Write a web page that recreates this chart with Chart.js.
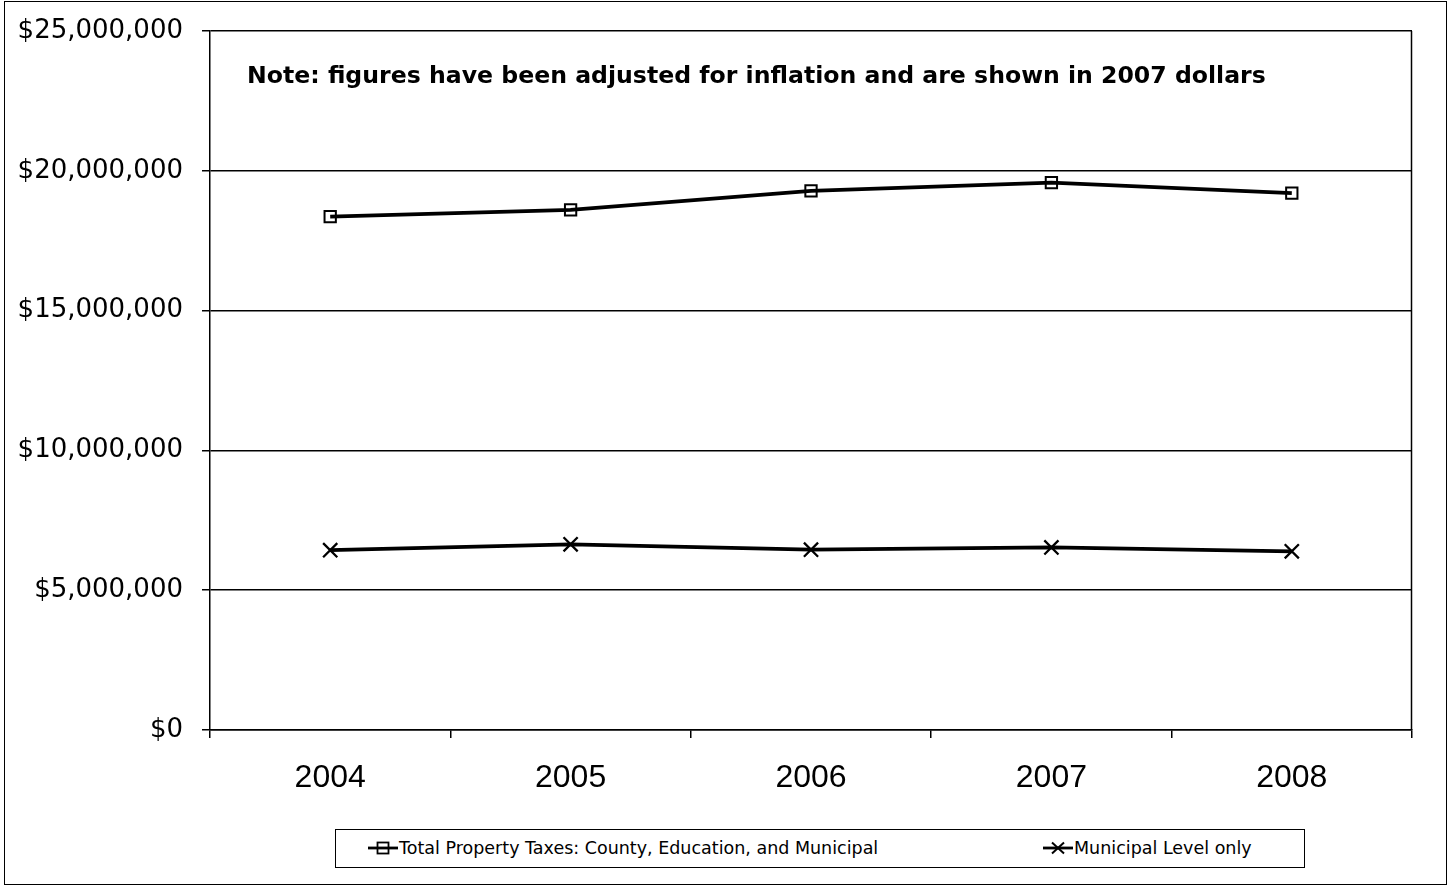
<!DOCTYPE html>
<html>
<head>
<meta charset="utf-8">
<script src="https://cdn.jsdelivr.net/npm/chart.js@4/dist/chart.umd.min.js"></script>
<style>
  html, body { margin: 0; padding: 0; background: #fff; }
  #wrap { position: relative; width: 1451px; height: 887px; overflow: hidden; }
  #frame { position: absolute; left: 4px; top: 1px; width: 1443px; height: 884px; box-sizing: border-box; border: 1.5px solid #000; pointer-events: none; }
  canvas { position: absolute; left: 0; top: 0; }
  #legend { position: absolute; left: 335px; top: 829px; width: 970px; height: 39px; box-sizing: border-box; border: 1.5px solid #000; background: #fff;
            font-family: "DejaVu Sans", Verdana, sans-serif; font-size: 17.5px; color: #000; }
  .item { position: absolute; top: 0; height: 36px; display: flex; align-items: center; white-space: nowrap; }
  .item svg { display: block; margin-right: 1px; }
</style>
</head>
<body>
<div id="wrap">
  <canvas id="c" width="1451" height="887"></canvas>
  <div id="frame"></div>
  <div id="legend"></div>
</div>
<script>
// ---- data ----
const categories = ['2004', '2005', '2006', '2007', '2008'];
const totalTaxes = [18360000, 18600000, 19280000, 19580000, 19200000];
const municipalTaxes = [6430000, 6640000, 6450000, 6530000, 6390000];
const seriesLabels = ['Total Property Taxes: County, Education, and Municipal', 'Municipal Level only'];
const yMin = 0;
const yMax = 25000000;
const yStep = 5000000;
const noteText = 'Note: figures have been adjusted for inflation and are shown in 2007 dollars';

// ---- plugins ----
const framePlugin = {
  id: 'framePlugin',
  beforeDatasetsDraw(chart) {
    const { ctx, chartArea } = chart;
    ctx.save();
    ctx.strokeStyle = '#000';
    ctx.lineWidth = 1.5;
    ctx.beginPath();
    ctx.moveTo(Math.round(chartArea.right) - 0.5, chartArea.top);
    ctx.lineTo(Math.round(chartArea.right) - 0.5, chartArea.bottom);
    ctx.stroke();
    ctx.restore();
  },
  afterDraw(chart) {
    const { ctx, chartArea } = chart;
    ctx.save();
    ctx.fillStyle = '#000';
    ctx.font = 'bold 23.6px "DejaVu Sans", Verdana, sans-serif';
    ctx.textBaseline = 'middle';
    ctx.textAlign = 'left';
    ctx.fillText(noteText, chartArea.left + 37, chartArea.top + 46);
    ctx.restore();
  }
};

const ctx = document.getElementById('c').getContext('2d');
new Chart(ctx, {
  type: 'line',
  data: {
    labels: categories,
    datasets: [
      {
        label: seriesLabels[0],
        data: totalTaxes,
        borderColor: '#000',
        borderWidth: 3.8,
        tension: 0,
        pointStyle: 'rect',
        pointRadius: 8,
        pointBorderWidth: 2,
        pointBorderColor: '#000',
        pointBackgroundColor: 'rgba(0,0,0,0)',
        fill: false
      },
      {
        label: seriesLabels[1],
        data: municipalTaxes,
        borderColor: '#000',
        borderWidth: 3.8,
        tension: 0,
        pointStyle: 'crossRot',
        pointRadius: 10,
        pointBorderWidth: 2.3,
        pointBorderColor: '#000',
        pointBackgroundColor: '#000',
        fill: false
      }
    ]
  },
  options: {
    responsive: false,
    animation: false,
    devicePixelRatio: 1,
    layout: { padding: { top: 31, right: 39, bottom: 0, left: 0 } },
    plugins: {
      legend: { display: false },
      tooltip: { enabled: false },
      title: { display: false }
    },
    scales: {
      x: {
        type: 'category',
        offset: true,
        afterFit(scale) { scale.height = 157; scale.paddingLeft = 0; scale.paddingRight = 0; },
        grid: {
          offset: true,
          drawOnChartArea: false,
          drawTicks: true,
          tickLength: 8,
          color: '#000',
          lineWidth: 1.5
        },
        border: { display: true, color: '#000', width: 1.5 },
        ticks: {
          color: '#000',
          padding: 21,
          maxRotation: 0,
          font: { family: '"Liberation Sans", Arial, sans-serif', size: 32 }
        }
      },
      y: {
        min: yMin,
        max: yMax,
        afterFit(scale) { scale.width = 210; scale.paddingTop = 0; scale.paddingBottom = 0; },
        grid: {
          drawOnChartArea: true,
          drawTicks: true,
          tickLength: 8,
          color: '#000',
          lineWidth: 1.5
        },
        border: { display: true, color: '#000', width: 1.5 },
        ticks: {
          stepSize: yStep,
          color: '#000',
          padding: 19,
          font: { family: '"DejaVu Sans", Verdana, sans-serif', size: 26 },
          callback: (v) => '$' + Number(v).toLocaleString('en-US')
        }
      }
    }
  },
  plugins: [framePlugin]
});

// ---- HTML legend ----
function markerSvg(kind) {
  const line = '<line x1="0" y1="7" x2="30" y2="7" stroke="#000" stroke-width="2.8"/>';
  const mark = kind === 'rect'
    ? '<rect x="9.5" y="1.5" width="11" height="11" fill="none" stroke="#000" stroke-width="1.8"/>'
    : '<line x1="9" y1="1.5" x2="21" y2="12.5" stroke="#000" stroke-width="2"/><line x1="9" y1="12.5" x2="21" y2="1.5" stroke="#000" stroke-width="2"/>';
  return '<svg width="30" height="14" viewBox="0 0 30 14">' + line + mark + '</svg>';
}
const legendEl = document.getElementById('legend');
const itemLefts = [32, 707];
const kinds = ['rect', 'crossRot'];
seriesLabels.forEach((lab, i) => {
  const d = document.createElement('div');
  d.className = 'item';
  d.style.left = itemLefts[i] + 'px';
  d.innerHTML = markerSvg(kinds[i]) + '<span></span>';
  d.querySelector('span').textContent = lab;
  legendEl.appendChild(d);
});
</script>
</body>
</html>
